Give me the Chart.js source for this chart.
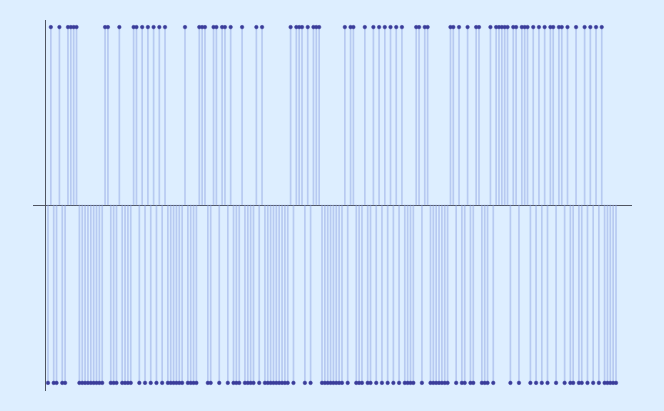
<!DOCTYPE html>
<html>
<head>
<meta charset="utf-8">
<script src="https://cdn.jsdelivr.net/npm/chart.js@4/dist/chart.umd.min.js"></script>
<style>
  html, body { margin: 0; padding: 0; background: #ddeeff; }
  #wrap { width: 664px; height: 411px; }
</style>
</head>
<body>
<div id="wrap"><canvas id="c" width="664" height="411"></canvas></div>
<script>
// Sample values (+1 above baseline, -1 below), index 0..199
const values = [
  -1, 1,-1,-1, 1,-1,-1, 1, 1, 1, 1,-1,-1,-1,-1,-1,-1,-1,-1,-1,
   1, 1,-1,-1,-1, 1,-1,-1,-1,-1, 1, 1,-1, 1,-1, 1,-1, 1,-1, 1,
  -1, 1,-1,-1,-1,-1,-1,-1, 1,-1,-1,-1,-1, 1, 1, 1,-1,-1, 1, 1,
  -1, 1, 1,-1, 1,-1,-1,-1, 1,-1,-1,-1,-1, 1,-1, 1,-1,-1,-1,-1,
  -1,-1,-1,-1,-1, 1,-1, 1, 1, 1,-1, 1,-1, 1, 1, 1,-1,-1,-1,-1,
  -1,-1,-1,-1, 1,-1, 1, 1,-1,-1,-1, 1,-1,-1, 1,-1, 1,-1, 1,-1,
   1,-1, 1,-1, 1,-1,-1,-1,-1, 1, 1,-1, 1, 1,-1,-1,-1,-1,-1,-1,
  -1, 1, 1,-1, 1,-1,-1, 1,-1,-1, 1, 1,-1,-1,-1, 1,-1, 1, 1, 1,
   1, 1,-1, 1, 1,-1, 1, 1, 1,-1, 1,-1, 1,-1, 1,-1, 1, 1,-1, 1,
   1,-1, 1,-1,-1, 1,-1,-1, 1,-1, 1,-1, 1,-1, 1,-1,-1,-1,-1,-1
];
const indices = values.map((_, i) => i);

const points = indices.map((x, i) => ({ x: x, y: values[i] }));

new Chart(document.getElementById('c'), {
  data: {
    datasets: [
      {
        type: 'bar',
        data: points,
        backgroundColor: 'rgba(145,165,228,0.5)',
        borderWidth: 0,
        barThickness: 1,
        grouped: false,
        order: 2
      },
      {
        type: 'scatter',
        data: points,
        pointRadius: 1.8,
        pointBackgroundColor: '#3a3c9a',
        pointBorderColor: '#3a3c9a',
        pointBorderWidth: 0.5,
        showLine: false,
        order: 1
      }
    ]
  },
  options: {
    responsive: false,
    animation: false,
    layout: { padding: { left: 33, right: 33, top: 20, bottom: 21 } },
    plugins: { legend: { display: false }, tooltip: { enabled: false } },
    scales: {
      x: {
        type: 'linear',
        min: -5.25,
        max: 204.25,
        offset: false,
        position: { y: 0 },
        grid: { display: false, drawTicks: false },
        ticks: { display: false },
        border: { display: true, color: '#4f5461', width: 1 }
      },
      y: {
        type: 'linear',
        min: -1.04,
        max: 1.04,
        position: { x: -0.94 },
        grid: { display: false, drawTicks: false },
        ticks: { display: false },
        border: { display: true, color: '#4f5461', width: 1 }
      }
    }
  }
});
</script>
</body>
</html>
